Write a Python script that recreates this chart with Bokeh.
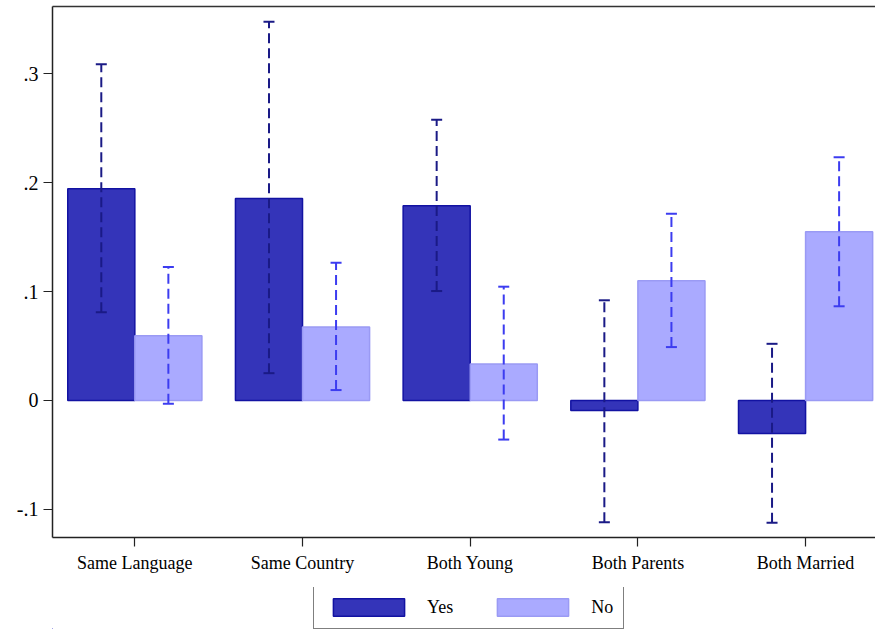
from bokeh.plotting import figure
from bokeh.layouts import column
from bokeh.models import (ColumnDataSource, FixedTicker, Whisker, TeeHead,
                          Legend, LegendItem, Range1d, LinearAxis)
from bokeh.transform import dodge
from bokeh.embed import file_html
from bokeh.resources import INLINE

categories = ["Same Language", "Same Country", "Both Young", "Both Parents", "Both Married"]
yes_vals = [0.1945, 0.1855, 0.179, -0.0093, -0.0305]
yes_lo = [0.081, 0.025, 0.1005, -0.112, -0.1125]
yes_hi = [0.309, 0.348, 0.258, 0.092, 0.052]
no_vals = [0.0595, 0.0675, 0.0335, 0.110, 0.155]
no_lo = [-0.003, 0.0095, -0.036, 0.049, 0.0865]
no_hi = [0.1225, 0.1265, 0.1045, 0.1715, 0.2235]
y_ticks = [-0.1, 0, 0.1, 0.2, 0.3]
y_tick_labels = ["-.1", "0", ".1", ".2", ".3"]
series_names = ["Yes", "No"]

FONT = "Liberation Serif"
YES_FILL, YES_LINE, YES_ERR = "#3434b9", "#1212a2", "#1a1a86"
NO_FILL, NO_LINE, NO_ERR = "#aaaaff", "#9a9af4", "#3c3cf0"

idx = list(range(len(categories)))
src = ColumnDataSource(dict(x=idx, yes=yes_vals, yes_lo=yes_lo, yes_hi=yes_hi,
                            no=no_vals, no_lo=no_lo, no_hi=no_hi))

p = figure(width=875, height=587, output_backend="svg", toolbar_location=None,
           x_range=Range1d(-0.491, 4.417), y_range=Range1d(-0.126, 0.3620),
           min_border_left=52, min_border_right=0, min_border_top=6,
           min_border_bottom=50)
p.background_fill_color = "white"
p.border_fill_color = "white"
p.outline_line_color = None
p.xgrid.visible = False
p.ygrid.visible = False

p.vbar(x=dodge("x", -0.2), top="yes", bottom=0, width=0.4, source=src,
       fill_color=YES_FILL, line_color=YES_LINE, line_width=1.5)
p.vbar(x=dodge("x", 0.2), top="no", bottom=0, width=0.4, source=src,
       fill_color=NO_FILL, line_color=NO_LINE, line_width=1.5)

w_yes = Whisker(base=dodge("x", -0.2), upper="yes_hi", lower="yes_lo", source=src,
                level="annotation",
                line_color=YES_ERR, line_width=2, line_dash="10 5",
                upper_head=TeeHead(size=11, line_color=YES_ERR, line_width=2),
                lower_head=TeeHead(size=11, line_color=YES_ERR, line_width=2))
w_no = Whisker(base=dodge("x", 0.2), upper="no_hi", lower="no_lo", source=src,
               level="annotation",
               line_color=NO_ERR, line_width=2, line_dash="10 5",
               upper_head=TeeHead(size=11, line_color=NO_ERR, line_width=2),
               lower_head=TeeHead(size=11, line_color=NO_ERR, line_width=2))
p.add_layout(w_yes)
p.add_layout(w_no)

# x axis
p.xaxis.ticker = FixedTicker(ticks=idx)
p.xaxis.major_label_overrides = {i: c for i, c in zip(idx, categories)}
p.xaxis.minor_tick_line_color = None
p.xaxis.major_tick_out = 9
p.xaxis.major_tick_in = 0
p.xaxis.major_label_standoff = 6
p.xaxis.major_label_text_font = FONT
p.xaxis.major_label_text_font_size = "18px"
p.xaxis.major_label_text_color = "black"
p.xaxis.axis_line_width = 1.5
p.xaxis.axis_line_color = "#222222"
p.xaxis.major_tick_line_color = "#222222"
p.xaxis.major_tick_line_width = 1.2

# y axis
p.yaxis.ticker = FixedTicker(ticks=y_ticks)
p.yaxis.major_label_overrides = {t: l for t, l in zip(y_ticks, y_tick_labels)}
p.yaxis.minor_tick_line_color = None
p.yaxis.major_tick_out = 9
p.yaxis.major_tick_in = 0
p.yaxis.major_label_standoff = 5
p.yaxis.major_label_text_font = FONT
p.yaxis.major_label_text_font_size = "20px"
p.yaxis.major_label_text_color = "black"
p.yaxis.axis_line_width = 1.5
p.yaxis.axis_line_color = "#222222"
p.yaxis.major_tick_line_color = "#222222"
p.yaxis.major_tick_line_width = 1.2

# top frame line only
top_axis = LinearAxis(ticker=FixedTicker(ticks=[]), major_label_text_font_size="0px",
                      major_tick_line_color=None, minor_tick_line_color=None,
                      axis_line_color="#333333", axis_line_width=1.5)
p.add_layout(top_axis, "above")

# legend strip below the chart (its renderers reuse the real data, kept out of its view)
lf = figure(width=875, height=42, output_backend="svg", toolbar_location=None,
            x_range=Range1d(100, 101), y_range=Range1d(100, 101),
            min_border_left=0, min_border_right=0, min_border_top=0, min_border_bottom=0)
lf.axis.visible = False
lf.xgrid.visible = False
lf.ygrid.visible = False
lf.outline_line_color = None
lf.border_fill_color = "white"
lr_yes = lf.vbar(x="x", top="yes", bottom=0, width=0.4, source=src,
                 fill_color=YES_FILL, line_color=YES_LINE, line_width=1.5)
lr_no = lf.vbar(x="x", top="no", bottom=0, width=0.4, source=src,
                fill_color=NO_FILL, line_color=NO_LINE, line_width=1.5)

legend = Legend(items=[LegendItem(label=series_names[0], renderers=[lr_yes]),
                       LegendItem(label=series_names[1], renderers=[lr_no])],
                orientation="horizontal", location=(261, 0),
                glyph_width=89, glyph_height=22, label_standoff=14,
                spacing=35, padding=10, margin=0,
                label_text_font=FONT, label_text_font_size="18px",
                label_text_color="black",
                border_line_color="black", border_line_width=1.5,
                background_fill_color="white", background_fill_alpha=1.0)
lf.add_layout(legend, "center")

layout = column(p, lf, spacing=0)
open("out.html", "w").write(file_html(layout, INLINE))
